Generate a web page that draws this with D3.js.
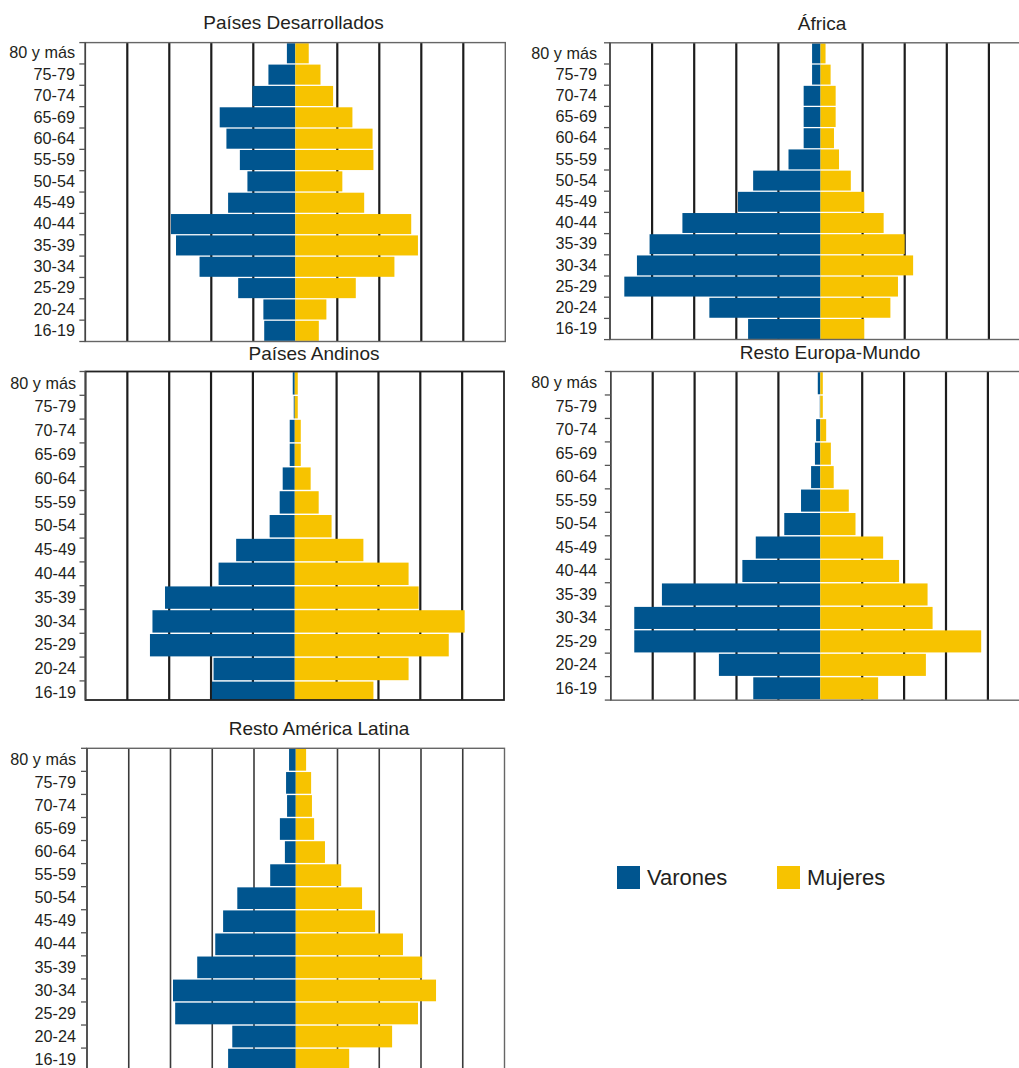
<!DOCTYPE html>
<html>
<head>
<meta charset="utf-8">
<script src="https://cdn.jsdelivr.net/npm/d3@7"></script>
<style>
  html, body { margin: 0; padding: 0; background: #fff; }
  svg { display: block; }
  text { font-family: "Liberation Sans", Arial, sans-serif; fill: #231f20; }
</style>
</head>
<body>
<svg id="chart" width="1019" height="1068"></svg>
<script>
// ---- Data (percent of each population group) ----
const ageGroups = ["80 y más","75-79","70-74","65-69","60-64","55-59","50-54","45-49","40-44","35-39","30-34","25-29","20-24","16-19"];
const regions = ["Países Desarrollados","África","Países Andinos","Resto Europa-Mundo","Resto América Latina"];
const seriesNames = ["Varones","Mujeres"];

const desarrolladosVarones = [0.5, 1.6, 2.55, 4.5, 4.1, 3.3, 2.85, 4.0, 7.4, 7.1, 5.7, 3.4, 1.9, 1.85];
const desarrolladosMujeres = [0.8, 1.5, 2.25, 3.4, 4.6, 4.65, 2.8, 4.1, 6.9, 7.3, 5.9, 3.6, 1.85, 1.4];

const africaVarones = [0.5, 0.5, 1.0, 1.0, 1.0, 1.9, 4.0, 4.9, 8.2, 10.15, 10.9, 11.65, 6.6, 4.3];
const africaMujeres = [0.3, 0.6, 0.9, 0.9, 0.8, 1.1, 1.8, 2.6, 3.75, 5.0, 5.5, 4.6, 4.15, 2.6];

const andinosVarones = [0.12, 0.06, 0.3, 0.3, 0.72, 0.9, 1.5, 3.5, 4.55, 7.75, 8.5, 8.65, 4.85, 4.95];
const andinosMujeres = [0.18, 0.18, 0.36, 0.36, 0.95, 1.43, 2.2, 4.1, 6.8, 7.4, 10.15, 9.2, 6.8, 4.7];

const europaMundoVarones = [0.15, 0.03, 0.25, 0.32, 0.55, 1.15, 2.15, 3.85, 4.65, 9.45, 11.1, 11.1, 6.05, 4.0];
const europaMundoMujeres = [0.15, 0.15, 0.35, 0.63, 0.8, 1.7, 2.1, 3.75, 4.7, 6.4, 6.7, 9.6, 6.3, 3.45];

const restoALVarones = [0.4, 0.58, 0.52, 0.95, 0.65, 1.53, 3.5, 4.35, 4.82, 5.9, 7.35, 7.22, 3.8, 4.05];
const restoALMujeres = [0.62, 0.92, 0.97, 1.1, 1.75, 2.72, 3.97, 4.75, 6.42, 7.57, 8.4, 7.32, 5.77, 3.2];

const gridTicks = [-10, -7.5, -5, -2.5, 2.5, 5, 7.5, 10];
const xDomain = [-12.5, 12.5];

const colors = { Varones: "#00558f", Mujeres: "#f7c300" };

// ---- Layout ----
const panels = [
  { title: regions[0], men: desarrolladosVarones, women: desarrolladosMujeres,
    left: 85.3, gridStep: 42.0, top: 42.6, rowStep: 21.35, bottom: 341.5, labelX: 75, titleX: 293.5, titleY: 29 },
  { title: regions[1], men: africaVarones, women: africaMujeres,
    left: 610, gridStep: 42.1, top: 42.8, rowStep: 21.2, bottom: 339.5, labelX: 597, titleX: 822, titleY: 30 },
  { title: regions[2], men: andinosVarones, women: andinosMujeres,
    left: 85.5, gridStep: 41.85, top: 371.5, rowStep: 23.8, bottom: 700, labelX: 76, titleX: 314, titleY: 360 },
  { title: regions[3], men: europaMundoVarones, women: europaMundoMujeres,
    left: 610.8, gridStep: 41.9, top: 371.5, rowStep: 23.47, bottom: 700.2, labelX: 597, titleX: 830, titleY: 359 },
  { title: regions[4], men: restoALVarones, women: restoALMujeres,
    left: 87, gridStep: 41.75, top: 748.3, rowStep: 23.06, bottom: 1071, labelX: 76, titleX: 319, titleY: 735 }
];

const svg = d3.select("#chart");
const defs = svg.append("defs");

panels.forEach((p, i) => {
  const right = p.left + 10 * p.gridStep;
  const x = d3.scaleLinear().domain(xDomain).range([p.left, right]);
  const y = d3.scaleBand().domain(ageGroups)
    .range([p.top, p.top + ageGroups.length * p.rowStep])
    .paddingInner(0.06).paddingOuter(0.03);

  const g = svg.append("g").attr("class", "panel");

  defs.append("clipPath").attr("id", "clip" + i)
    .append("rect").attr("x", p.left).attr("y", p.top)
    .attr("width", right - p.left).attr("height", p.bottom - p.top);

  const plot = g.append("g").attr("clip-path", `url(#clip${i})`);

  // gridlines
  plot.selectAll("line.grid").data(gridTicks).join("line")
    .attr("class", "grid")
    .attr("x1", d => x(d)).attr("x2", d => x(d))
    .attr("y1", p.top).attr("y2", p.bottom)
    .attr("stroke", i === 4 ? "#3a3a3a" : "#1c1c1c")
    .attr("stroke-width", i === 4 ? 1.6 : 2.2);

  // bars
  plot.selectAll("rect.men").data(ageGroups).join("rect")
    .attr("class", "men")
    .attr("x", (d, k) => x(-p.men[k]))
    .attr("width", (d, k) => x(0) - x(-p.men[k]))
    .attr("y", d => y(d)).attr("height", y.bandwidth())
    .attr("fill", colors.Varones);
  plot.selectAll("rect.women").data(ageGroups).join("rect")
    .attr("class", "women")
    .attr("x", x(0))
    .attr("width", (d, k) => x(p.women[k]) - x(0))
    .attr("y", d => y(d)).attr("height", y.bandwidth())
    .attr("fill", colors.Mujeres);

  // frame
  g.append("rect")
    .attr("x", p.left).attr("y", p.top)
    .attr("width", right - p.left).attr("height", p.bottom - p.top)
    .attr("fill", "none")
    .attr("stroke", i === 2 ? "#222" : "#666")
    .attr("stroke-width", i === 2 ? 1.8 : 1.4);

  // left axis line
  g.append("line")
    .attr("x1", p.left).attr("x2", p.left)
    .attr("y1", p.top).attr("y2", p.bottom)
    .attr("stroke", "#444").attr("stroke-width", 1.6);

  // boundary ticks
  const bounds = d3.range(ageGroups.length + 1).map(k => p.top + k * p.rowStep).filter(v => v <= p.bottom + 0.5);
  g.selectAll("line.btick").data(bounds).join("line")
    .attr("class", "btick")
    .attr("x1", p.left - 6).attr("x2", p.left)
    .attr("y1", d => d).attr("y2", d => d)
    .attr("stroke", "#555").attr("stroke-width", 1.3);

  // category labels via axis
  const axis = d3.axisLeft(y).tickSize(0).tickPadding(p.left - p.labelX);
  const ax = g.append("g").attr("transform", `translate(${p.left},0)`).call(axis);
  ax.select(".domain").remove();
  ax.selectAll("text")
    .style("font-family", '"Liberation Sans", Arial, sans-serif')
    .style("font-size", "16.2px")
    .attr("fill", "#231f20");

  // title
  g.append("text")
    .attr("x", p.titleX).attr("y", p.titleY)
    .attr("text-anchor", "middle")
    .style("font-size", "19px")
    .text(p.title);
});

// ---- Legend ----
const legendItems = [
  { name: seriesNames[0], x: 617 },
  { name: seriesNames[1], x: 777 }
];
const lg = svg.append("g").attr("class", "legend");
legendItems.forEach(it => {
  lg.append("rect").attr("x", it.x).attr("y", 866).attr("width", 23).attr("height", 23)
    .attr("fill", colors[it.name]);
  lg.append("text").attr("x", it.x + 30).attr("y", 885)
    .style("font-size", "22px").text(it.name);
});
</script>
</body>
</html>
